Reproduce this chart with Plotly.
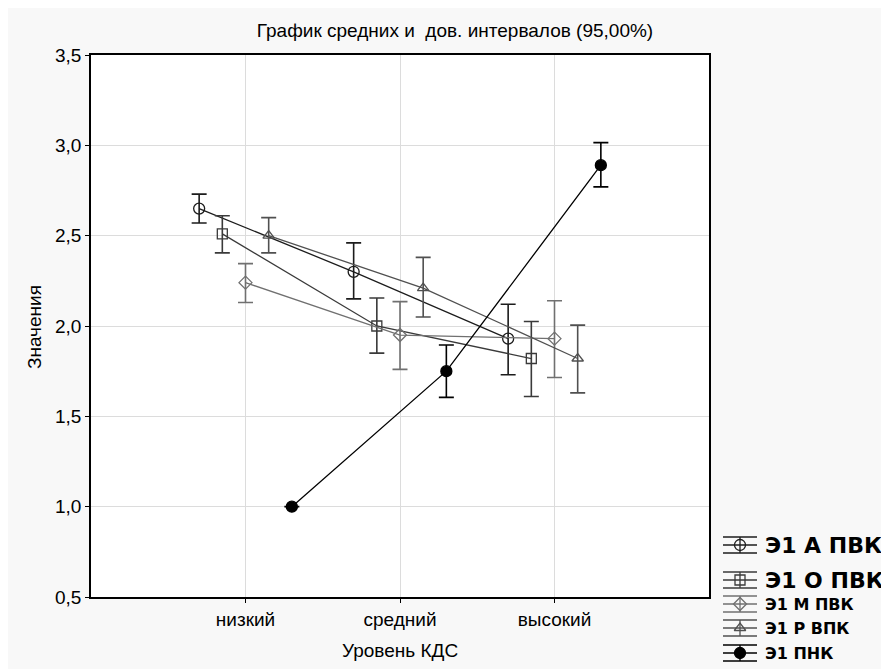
import plotly.graph_objects as go

W, H = 889, 669
OFF = 8  # page body margin offset
PL, PR, PT, PB = 91 - OFF, 709 - OFF, 55 - OFF, 597 - OFF
LX0, LY0 = 707, 518  # legend box (figure px) top-left

categories = ["низкий", "средний", "высокий"]
cat_pos = [1, 2, 3]

series_names = ["Э1 А ПВК", "Э1 О ПВК", "Э1 М ПВК", "Э1 Р ВПК", "Э1 ПНК"]
offsets = [-0.3, -0.15, 0.0, 0.15, 0.3]

a_mean = [2.65, 2.30, 1.93]
a_hi = [2.73, 2.46, 2.12]
a_lo = [2.57, 2.15, 1.73]

o_mean = [2.51, 2.00, 1.82]
o_hi = [2.61, 2.155, 2.025]
o_lo = [2.405, 1.85, 1.61]

m_mean = [2.24, 1.95, 1.93]
m_hi = [2.345, 2.135, 2.14]
m_lo = [2.13, 1.76, 1.715]

r_mean = [2.50, 2.21, 1.82]
r_hi = [2.60, 2.38, 2.005]
r_lo = [2.405, 2.05, 1.63]

p_mean = [1.00, 1.75, 2.89]
p_hi = [None, 1.895, 3.015]
p_lo = [None, 1.605, 2.77]

means = [a_mean, o_mean, m_mean, r_mean, p_mean]
his = [a_hi, o_hi, m_hi, r_hi, p_hi]
los = [a_lo, o_lo, m_lo, r_lo, p_lo]

colors = ["#1c1c1c", "#3a3a3a", "#707070", "#505050", "#000000"]
symbols = ["circle-open", "square-open", "diamond-open", "triangle-up-open", "circle"]
msizes = [11, 10, 10, 10, 11]

fig = go.Figure()
for name, off, mn, hi, lo, col, sym, ms in zip(series_names, offsets, means, his, los,
                                             colors, symbols, msizes):
    xs = [c + off for c in cat_pos]
    plus = [None if h is None else h - m for h, m in zip(hi, mn)]
    minus = [None if l is None else m - l for l, m in zip(lo, mn)]
    fig.add_trace(go.Scatter(
        x=xs, y=mn, mode="lines+markers", name=name, showlegend=False,
        line=dict(color=col, width=1.3),
        marker=dict(symbol=sym, size=ms, color=col, line=dict(color=col, width=1.3)),
        error_y=dict(type="data", symmetric=False, array=plus, arrayminus=minus,
                     color=col, thickness=1.6, width=7.5),
        xaxis="x", yaxis="y",
    ))

# custom legend (pixel overlay axes placed outside the plot area)
leg_y = [537, 572, 596, 620, 645]
leg_font = [22, 22, 16, 16, 16]
for name, col, sym, ms, ly, fs in zip(series_names, colors, symbols, msizes, leg_y, leg_font):
    fig.add_trace(go.Scatter(x=[715, 749, None, 715, 749, None, 715, 749, None, 732, 732],
                             y=[ly - 8, ly - 8, None, ly, ly, None, ly + 8, ly + 8, None, ly - 8, ly + 8],
                             mode="lines", line=dict(color=col, width=1.3),
                             showlegend=False, hoverinfo="skip", xaxis="x2", yaxis="y2"))
    fig.add_trace(go.Scatter(x=[732], y=[ly], mode="markers",
                             marker=dict(symbol=sym, size=ms, color=col, line=dict(color=col, width=1.3)),
                             showlegend=False, hoverinfo="skip", xaxis="x2", yaxis="y2"))
    fig.add_annotation(x=755, y=ly, xref="x2", yref="y2", text="<b>" + name + "</b>",
                       showarrow=False, xanchor="left", yanchor="middle",
                       font=dict(family="DejaVu Sans", size=fs, color="#000000"))

# axis titles
fig.add_annotation(x=392 / W, y=1 - 642 / H, xref="paper", yref="paper", text="Уровень КДС",
                   showarrow=False, xanchor="center", yanchor="middle", font=dict(size=19))
fig.add_annotation(x=26 / W, y=1 - 319 / H, xref="paper", yref="paper", text="Значения",
                   showarrow=False, xanchor="center", yanchor="middle", textangle=-90,
                   font=dict(size=19))

# white plotting area drawn as background shape
fig.add_shape(type="rect", xref="x domain", yref="y domain", x0=0, x1=1, y0=0, y1=1,
              fillcolor="#ffffff", line=dict(width=0), layer="below")

fig.update_layout(
    width=W, height=H,
    margin=dict(l=0, r=0, t=0, b=0),
    paper_bgcolor="#f8f8f8",
    plot_bgcolor="rgba(0,0,0,0)",
    separators=",.",
    font=dict(family="Liberation Sans, Arial, sans-serif", color="#000000"),
    xaxis=dict(domain=[PL / W, PR / W], range=[0, 4], tickvals=cat_pos, ticktext=categories,
               showgrid=True, gridcolor="#dcdcdc", gridwidth=1, zeroline=False,
               showline=True, linecolor="#000000", linewidth=1.6, mirror=True,
               ticks="outside", ticklen=4, tickcolor="#000000", tickfont=dict(size=19),
               automargin=False),
    yaxis=dict(domain=[1 - PB / H, 1 - PT / H], range=[0.5, 3.5], dtick=0.5, tick0=0.5,
               tickformat=".1f",
               showgrid=True, gridcolor="#dcdcdc", gridwidth=1, zeroline=False,
               showline=True, linecolor="#000000", linewidth=1.6, mirror=True,
               ticks="outside", ticklen=4, tickcolor="#000000", tickfont=dict(size=19),
               automargin=False),
    xaxis2=dict(domain=[LX0 / W, 1], range=[LX0, W], visible=False, fixedrange=True, anchor="y2"),
    yaxis2=dict(domain=[0, 1 - LY0 / H], range=[H, LY0], visible=False, fixedrange=True, anchor="x2"),
    title=dict(text="График средних и  дов. интервалов (95,00%)", x=447 / W, xanchor="center",
               y=1 - 22 / H, yanchor="middle", font=dict(size=19)),
)

fig.write_html("out.html")
